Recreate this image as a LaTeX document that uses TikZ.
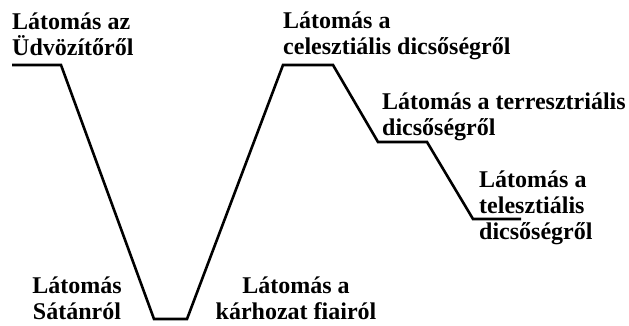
\documentclass[tikz,border=0pt]{standalone}
\usepackage{fontspec}
\setmainfont{Liberation Serif}
\begin{document}
\begin{tikzpicture}[x=1pt,y=-1pt,
  lbl/.style={inner sep=0pt, font=\fontsize{24}{26}\selectfont\bfseries},
  lw/.style={lbl, anchor=base west},
  lc/.style={lbl, anchor=base},
  track/.style={line width=2.6pt, line join=miter, black}]
\useasboundingbox (0,0) rectangle (629,325);
% path points
\coordinate (p1) at (12,65);
\coordinate (p2) at (61,65);
\coordinate (p3) at (154,319);
\coordinate (p4) at (187,319);
\coordinate (p5) at (283,65);
\coordinate (p6) at (333,65);
\coordinate (p7) at (378,142);
\coordinate (p8) at (427,142);
\coordinate (p9) at (473,219);
\coordinate (p10) at (521,219);
\draw[track] (p1) -- (p2) -- (p3) -- (p4) -- (p5) -- (p6) -- (p7) -- (p8) -- (p9) -- (p10);
% labels
\node[lw] (a1) at (12,29) {Látomás az};
\node[lw] (a2) at (12,55) {Üdvözítőről};
\node[lw] (b1) at (283,28) {Látomás a};
\node[lw] (b2) at (283,54) {celesztiális dicsőségről};
\node[lw] (c1) at (382,109) {Látomás a terresztriális};
\node[lw] (c2) at (382,135) {dicsőségről};
\node[lw] (d1) at (479,187) {Látomás a};
\node[lw] (d2) at (479,213) {telesztiális};
\node[lw] (d3) at (479,239) {dicsőségről};
\node[lc] (e1) at (77,293) {Látomás};
\node[lc] (e2) at (77,319) {Sátánról};
\node[lc] (f1) at (296,293) {Látomás a};
\node[lc] (f2) at (296,319) {kárhozat fiairól};
\end{tikzpicture}
\end{document}
